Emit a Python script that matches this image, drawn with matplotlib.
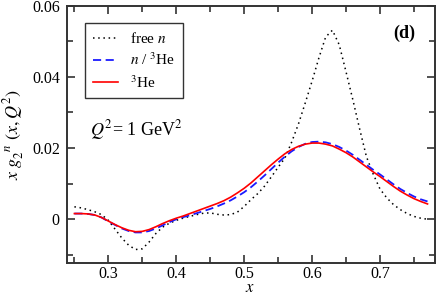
import numpy as np
import matplotlib
matplotlib.use("Agg")
import matplotlib.pyplot as plt
from matplotlib.ticker import MultipleLocator, FixedLocator

plt.rcParams['font.family'] = ['Liberation Serif', 'DejaVu Serif']
plt.rcParams['mathtext.fontset'] = 'stix'

x = np.round(np.arange(0.25, 0.7701, 0.01), 2)

free_n = [0.0035, 0.0032, 0.0027, 0.0021, 0.0013, -0.0003, -0.0028, -0.0053, -0.0073, -0.0085,
          -0.0083, -0.0064, -0.0040, -0.0022, -0.0011, -0.0003, 0.0003, 0.0008, 0.0013, 0.0017,
          0.0018, 0.0014, 0.0012, 0.0013, 0.0020, 0.0036, 0.0055, 0.0072, 0.0093, 0.0119,
          0.0146, 0.0172, 0.0217, 0.0268, 0.0327, 0.0388, 0.0453, 0.0512, 0.0531, 0.0490,
          0.0414, 0.0336, 0.0254, 0.0176, 0.0127, 0.0085, 0.0060, 0.0041, 0.0027, 0.0016,
          0.0008, 0.0003, 0.0000]

n_he3 = [0.0016, 0.0016, 0.0015, 0.0012, 0.0005, -0.0006, -0.0016, -0.0026, -0.0033, -0.0037,
         -0.0037, -0.0033, -0.0026, -0.0017, -0.0008, 0.0000, 0.0006, 0.0011, 0.0017, 0.0023,
         0.0029, 0.0036, 0.0044, 0.0053, 0.0064, 0.0076, 0.0090, 0.0106, 0.0123, 0.0141,
         0.0159, 0.0176, 0.0191, 0.0203, 0.0212, 0.0217, 0.0218, 0.0216, 0.0211, 0.0203,
         0.0193, 0.0181, 0.0167, 0.0153, 0.0139, 0.0126, 0.0112, 0.0098, 0.0085, 0.0074,
         0.0064, 0.0056, 0.0050]

he3 = [0.0016, 0.0016, 0.0015, 0.0012, 0.0005, -0.0005, -0.0015, -0.0024, -0.0031, -0.0035,
       -0.0034, -0.0029, -0.0021, -0.0012, -0.0004, 0.0003, 0.0009, 0.0016, 0.0023, 0.0030,
       0.0037, 0.0044, 0.0052, 0.0062, 0.0074, 0.0087, 0.0102, 0.0119, 0.0136, 0.0153,
       0.0169, 0.0184, 0.0196, 0.0205, 0.0211, 0.0214, 0.0214, 0.0211, 0.0206, 0.0197,
       0.0187, 0.0175, 0.0161, 0.0147, 0.0133, 0.0120, 0.0106, 0.0092, 0.0079, 0.0068,
       0.0058, 0.0050, 0.0043]

xticks = [0.3, 0.4, 0.5, 0.6, 0.7]
xticklabels = ['0.3', '0.4', '0.5', '0.6', '0.7']
yticks = [0.0, 0.02, 0.04, 0.06]
yticklabels = ['0', '0.02', '0.04', '0.06']

fig = plt.figure(figsize=(4.36, 2.97), dpi=100)
ax = fig.add_axes([0.153, 0.1155, 0.8447, 0.8655])

ax.plot(x, free_n, color='black', linestyle=(0, (1, 2.4)), linewidth=1.1, label=r'free $\it{n}$')
ax.plot(x, n_he3, color='#1a1aff', linestyle=(0, (4.5, 2.5)), linewidth=1.3, label=r'$\it{n}$ / $^3$He')
ax.plot(x, he3, color='#ff0000', linestyle='-', linewidth=1.2, label=r'$^3$He')

ax.set_xlim(0.2387, 0.781)
ax.set_ylim(-0.0122, 0.06)

ax.xaxis.set_major_locator(FixedLocator(xticks))
ax.set_xticklabels(xticklabels)
ax.xaxis.set_minor_locator(MultipleLocator(0.05))
ax.yaxis.set_major_locator(FixedLocator(yticks))
ax.set_yticklabels(yticklabels)
ax.yaxis.set_minor_locator(MultipleLocator(0.01))

ax.tick_params(which='both', direction='in', top=True, right=True, labelsize=11.5, colors='#333333', labelcolor='black')
ax.tick_params(which='major', length=6, width=1.2, pad=5)
ax.tick_params(axis='x', which='major', pad=2.5)
ax.tick_params(which='minor', length=4, width=1.2)
for s in ax.spines.values():
    s.set_linewidth(1.4)
    s.set_color('#333333')

fig.text(0.574, 0.004, r'$x$', fontsize=12, ha='center', va='bottom')
ax.set_ylabel(r'$x\ g_2^{\ \ n}\ (x,Q^2)$', fontsize=13, labelpad=4)

leg = ax.legend(loc='upper left', bbox_to_anchor=(0.05, 0.931), borderaxespad=0, fontsize=11,
                frameon=True, fancybox=False, edgecolor='black', handlelength=1.65,
                borderpad=0.5, labelspacing=0.38, handletextpad=0.8)
leg.get_frame().set_linewidth(1.0)

ax.text(0.063, 0.515, r'$Q^2$= 1 GeV$^2$', transform=ax.transAxes, fontsize=13, va='center')
ax.text(0.946, 0.892, '(d)', transform=ax.transAxes, fontsize=13, fontweight='bold', ha='right', va='center')

fig.savefig('out.png', dpi=100)
